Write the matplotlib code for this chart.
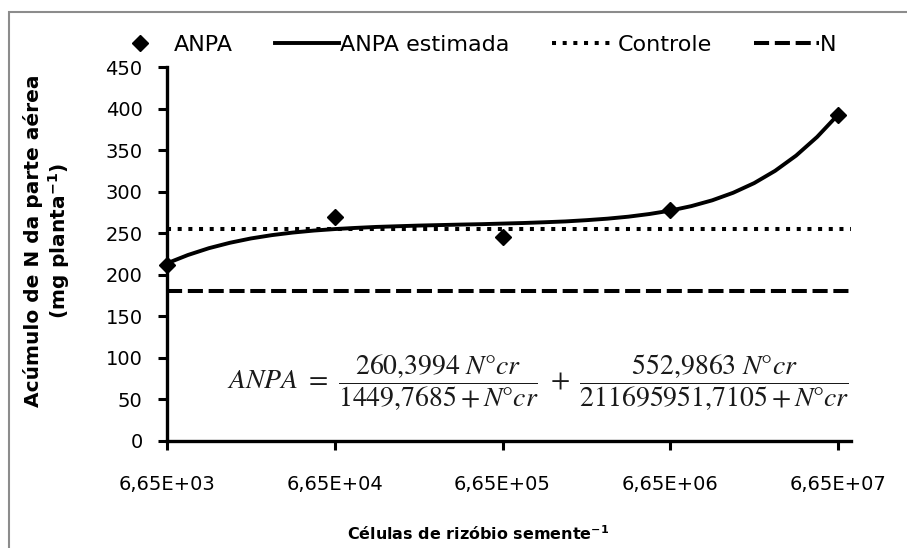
import numpy as np
import matplotlib.pyplot as plt
from matplotlib.patches import Rectangle

plt.rcParams['font.family'] = ['DejaVu Sans']
plt.rcParams['mathtext.fontset'] = 'stix'

# Observed data
celulas = [6.65e3, 6.65e4, 6.65e5, 6.65e6, 6.65e7]
anpa = [212, 270, 246, 278, 392]

# Estimated curve in eighth-decade steps
x_est = [6.65e3, 8.868e3, 1.1826e4, 1.5770e4, 2.1029e4, 2.8043e4, 3.7396e4, 4.9868e4,
         6.65e4, 8.868e4, 1.1826e5, 1.5770e5, 2.1029e5, 2.8043e5, 3.7396e5, 4.9868e5,
         6.65e5, 8.868e5, 1.1826e6, 1.5770e6, 2.1029e6, 2.8043e6, 3.7396e6, 4.9868e6,
         6.65e6, 8.868e6, 1.1826e7, 1.5770e7, 2.1029e7, 2.8043e7, 3.7396e7, 4.9868e7,
         6.65e7]
y_est = [213.8, 223.8, 232.0, 238.5, 243.7, 247.7, 250.8, 253.2,
         255.0, 256.4, 257.6, 258.4, 259.2, 259.8, 260.4, 260.9,
         261.6, 262.3, 263.2, 264.2, 265.7, 267.5, 269.9, 273.1,
         277.2, 282.6, 289.6, 298.7, 310.3, 325.1, 343.4, 365.8,
         392.6]

controle = 255
n_level = 180

xticks = [6.65e3, 6.65e4, 6.65e5, 6.65e6, 6.65e7]
xticklabels = ['6,65E+03', '6,65E+04', '6,65E+05', '6,65E+06', '6,65E+07']

fig = plt.figure(figsize=(9.07, 5.48), dpi=100)
ax = fig.add_axes([0.1841, 0.1953, 0.9383 - 0.1841, 0.8777 - 0.1953])

# moldura cinza
fig.patches.append(Rectangle((9 / 907, -0.1), 1.2, 1.1 - 12 / 548, transform=fig.transFigure,
                             fill=False, edgecolor='#8c8c8c', linewidth=1.5))

ax.set_xscale('log')
xmin = 6.65e3
xmax = 6.65e3 * 10 ** 4.0775
ax.set_xlim(xmin, xmax)
ax.set_ylim(0, 450)

ax.plot(celulas, anpa, linestyle='none', marker='D', markersize=8.5, color='black',
        label='ANPA', clip_on=False, zorder=5)
ax.plot(x_est, y_est, color='black', linewidth=2.8, label='ANPA estimada')
ax.plot([xmin, xmax], [controle, controle], color='black', linewidth=2.9,
        linestyle=(0, (1, 1.65)), label='Controle')
ax.plot([xmin, xmax], [n_level, n_level], color='black', linewidth=2.9,
        linestyle=(0, (3.75, 1.42)), label='N')

ax.set_xticks(xticks)
ax.set_xticklabels(xticklabels)
ax.minorticks_off()
ax.set_yticks(np.arange(0, 451, 50))
ax.tick_params(axis='both', direction='out', length=6.5, width=2.2, labelsize=14, colors='black')
ax.tick_params(axis='x', pad=18)
ax.tick_params(axis='y', pad=11)

for s in ['top', 'right']:
    ax.spines[s].set_visible(False)
for s in ['left', 'bottom']:
    ax.spines[s].set_linewidth(2.4)

ax.set_ylabel('Acúmulo de N da parte aérea\n(mg planta$^{\\mathregular{-1}}$)',
              fontsize=14.5, fontweight='bold', linespacing=1.2)
ax.yaxis.set_label_coords(-0.139, 0.535)
ax.set_xlabel('Células de rizóbio semente$^{\\mathregular{-1}}$', fontsize=11.5,
              fontweight='bold', va='top')
ax.xaxis.set_label_coords(0.455, -0.222)

eq = (r'$ANPA\ =\ \dfrac{260{,}3994\ N\degree cr}{1449{,}7685 + N\degree cr}'
      r'\ +\ \dfrac{552{,}9863\ N\degree cr}{211695951{,}7105 + N\degree cr}$')
ax.text(0.088, 0.156, eq, transform=ax.transAxes, fontsize=20, color='#1a1a1a',
        ha='left', va='center')

fig.legend(loc='center left', bbox_to_anchor=(97 / 907, 1 - 45 / 548), ncol=4, frameon=False,
           fontsize=16, handlelength=2.9, handletextpad=0.05, columnspacing=1.9, borderpad=0)

fig.savefig('out.png', dpi=100)
